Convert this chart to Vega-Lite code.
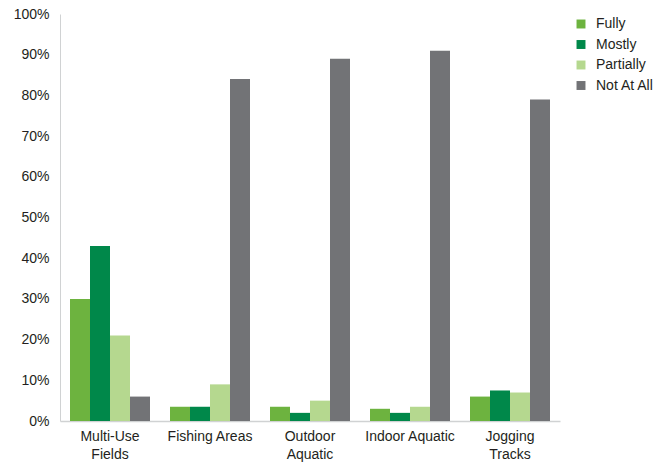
{
  "$schema": "https://vega.github.io/schema/vega-lite/v6.json",
  "width": 500,
  "height": 407,
  "autosize": "none",
  "padding": {"left": 60, "top": 14, "right": 108, "bottom": 43},
  "background": "#ffffff",
  "config": {
    "view": {"stroke": null},
    "font": "Liberation Sans",
    "axis": {"labelFont": "Liberation Sans", "labelColor": "#231f20", "labelFontSize": 14},
    "legend": {"labelFont": "Liberation Sans", "labelColor": "#231f20", "labelFontSize": 14}
  },
  "data": {
    "values": [
      {"facility": "Multi-Use Fields", "level": "Fully", "pct": 30},
      {"facility": "Multi-Use Fields", "level": "Mostly", "pct": 43},
      {"facility": "Multi-Use Fields", "level": "Partially", "pct": 21},
      {"facility": "Multi-Use Fields", "level": "Not At All", "pct": 6},
      {"facility": "Fishing Areas", "level": "Fully", "pct": 3.5},
      {"facility": "Fishing Areas", "level": "Mostly", "pct": 3.5},
      {"facility": "Fishing Areas", "level": "Partially", "pct": 9},
      {"facility": "Fishing Areas", "level": "Not At All", "pct": 84},
      {"facility": "Outdoor Aquatic", "level": "Fully", "pct": 3.5},
      {"facility": "Outdoor Aquatic", "level": "Mostly", "pct": 2},
      {"facility": "Outdoor Aquatic", "level": "Partially", "pct": 5},
      {"facility": "Outdoor Aquatic", "level": "Not At All", "pct": 89},
      {"facility": "Indoor Aquatic", "level": "Fully", "pct": 3},
      {"facility": "Indoor Aquatic", "level": "Mostly", "pct": 2},
      {"facility": "Indoor Aquatic", "level": "Partially", "pct": 3.5},
      {"facility": "Indoor Aquatic", "level": "Not At All", "pct": 91},
      {"facility": "Jogging Tracks", "level": "Fully", "pct": 6},
      {"facility": "Jogging Tracks", "level": "Mostly", "pct": 7.5},
      {"facility": "Jogging Tracks", "level": "Partially", "pct": 7},
      {"facility": "Jogging Tracks", "level": "Not At All", "pct": 79}
    ]
  },
  "mark": {"type": "bar"},
  "encoding": {
    "x": {
      "field": "facility",
      "type": "nominal",
      "sort": ["Multi-Use Fields", "Fishing Areas", "Outdoor Aquatic", "Indoor Aquatic", "Jogging Tracks"],
      "scale": {"paddingInner": 0.2, "paddingOuter": 0.1},
      "axis": {
        "title": null,
        "labelAngle": 0,
        "ticks": false,
        "domainColor": "#d0d2d3",
        "domainWidth": 1.5,
        "labelPadding": 8,
        "labelLineHeight": 18,
        "labelExpr": "datum.label == 'Fishing Areas' || datum.label == 'Indoor Aquatic' ? datum.label : split(datum.label, ' ')"
      }
    },
    "xOffset": {
      "field": "level",
      "type": "nominal",
      "sort": ["Fully", "Mostly", "Partially", "Not At All"],
      "scale": {"paddingInner": 0, "paddingOuter": 0}
    },
    "y": {
      "field": "pct",
      "type": "quantitative",
      "scale": {"domain": [0, 100]},
      "axis": {
        "title": null,
        "grid": false,
        "ticks": false,
        "tickCount": 10,
        "domainColor": "#d0d2d3",
        "domainWidth": 1,
        "labelPadding": 11,
        "labelExpr": "datum.value + '%'"
      }
    },
    "color": {
      "field": "level",
      "type": "nominal",
      "sort": ["Fully", "Mostly", "Partially", "Not At All"],
      "scale": {
        "domain": ["Fully", "Mostly", "Partially", "Not At All"],
        "range": ["#6db33f", "#00884a", "#b5d88f", "#727376"]
      },
      "legend": {
        "title": null,
        "orient": "none",
        "legendX": 514,
        "legendY": 3,
        "symbolType": "square",
        "symbolSize": 80,
        "symbolStrokeWidth": 0,
        "rowPadding": 6.5,
        "labelOffset": 8
      }
    }
  }
}
